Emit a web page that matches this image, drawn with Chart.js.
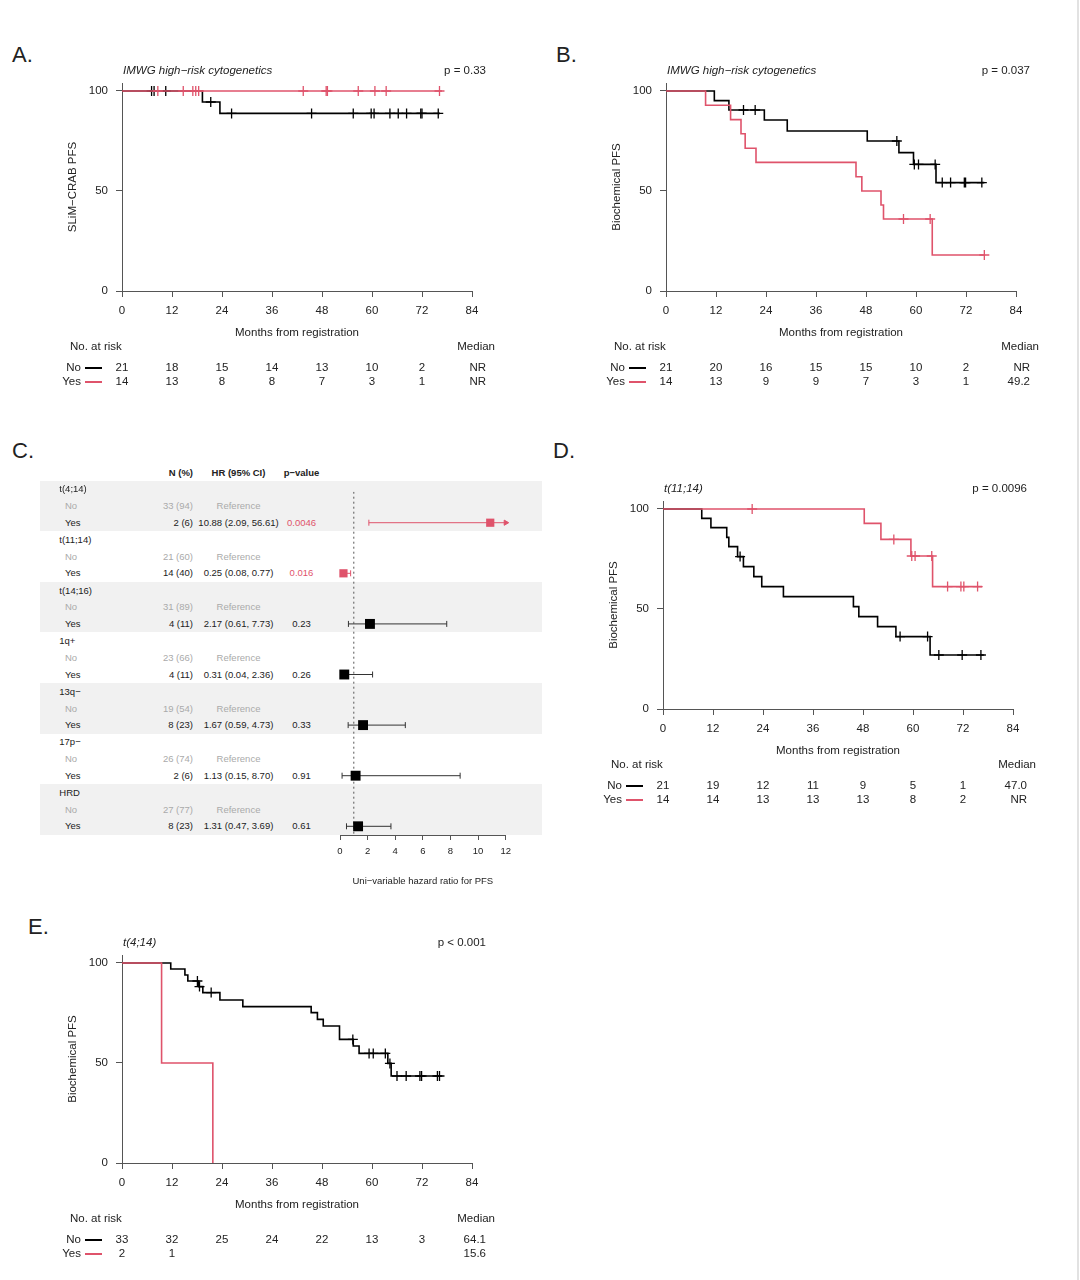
<!DOCTYPE html>
<html>
<head>
<meta charset="utf-8">
<script src="https://cdn.jsdelivr.net/npm/chart.js@4.4.0/dist/chart.umd.min.js"></script>
<style>
  body { margin: 0; background: #fff; }
  #fig { position: relative; width: 1080px; height: 1280px; overflow: hidden;
         font-family: 'Liberation Sans', Arial, sans-serif; color: #222; }
  #fig canvas { position: absolute; }
  .t { position: absolute; white-space: nowrap; line-height: 1; }
</style>
</head>
<body>
<div id="fig"></div>
<script>
/* ---- data ---- */
var RED = '#DF536B';
var monthTicks = [0, 12, 24, 36, 48, 60, 72, 84];
var survTicks = [0, 50, 100];

// A. SLiM-CRAB PFS by IMWG high-risk cytogenetics
var aNoTime = [0, 19.3, 23.5, 76.3];
var aNoSurv = [100, 94.5, 88.8, 88.8];
var aNoCens = [7.1, 7.7, 10.5, 21.3, 26.3, 45.5, 55.5, 59.8, 60.5, 64.3, 66.3, 68.3, 71.7, 72.0, 75.9];
var aYesTime = [0, 76.8];
var aYesSurv = [100, 100];
var aYesCens = [8.6, 14.7, 17.0, 17.7, 18.4, 43.5, 49.0, 49.3, 56.7, 60.7, 63.4, 76.2];
var aRiskNo = [21, 18, 15, 14, 13, 10, 2];
var aRiskYes = [14, 13, 8, 8, 7, 3, 1];
var aMedian = ['NR', 'NR'];

// B. Biochemical PFS by IMWG high-risk cytogenetics
var bNoTime = [0, 11.6, 15.1, 23.6, 29.1, 48.3, 55.9, 59.4, 64.8, 76.4];
var bNoSurv = [100, 95.2, 90.5, 85.5, 80, 75, 69.2, 63.3, 54.2, 54.2];
var bNoCens = [18.6, 21.4, 55.4, 59.6, 60.6, 64.6, 66.3, 68.3, 71.6, 71.9, 75.8];
var bYesTime = [0, 9.5, 15.5, 18, 19, 21.6, 45.6, 47, 51.6, 52.2, 63.9, 76.6];
var bYesSurv = [100, 92.9, 85.7, 78.6, 71.4, 64.3, 57.1, 50, 43, 36, 18, 18];
var bYesCens = [57, 63.4, 76.4];
var bRiskNo = [21, 20, 16, 15, 15, 10, 2];
var bRiskYes = [14, 13, 9, 9, 7, 3, 1];
var bMedian = ['NR', '49.2'];

// D. Biochemical PFS by t(11;14)
var dNoTime = [0, 9.3, 11.5, 15.3, 15.8, 17.9, 19.3, 21.8, 23.7, 28.9, 45.7, 47, 51.5, 55.9, 64.1, 77];
var dNoSurv = [100, 95.3, 90.7, 85.8, 81.2, 76.2, 71.2, 66.2, 61.2, 56.2, 51.2, 46.2, 41.2, 36.2, 27, 27];
var dNoCens = [18.5, 56.9, 63.5, 66.2, 71.8, 76.3];
var dYesTime = [0, 48.3, 52.3, 59.5, 64.7, 76.6];
var dYesSurv = [100, 92.8, 84.8, 76.5, 61.2, 61.2];
var dYesCens = [21.4, 55.4, 59.7, 60.5, 64.5, 68.3, 71.5, 72.2, 75.5];
var dRiskNo = [21, 19, 12, 11, 9, 5, 1];
var dRiskYes = [14, 14, 13, 13, 13, 8, 2];
var dMedian = ['47.0', 'NR'];

// E. Biochemical PFS by t(4;14)
var eNoTime = [0, 11.7, 15.1, 15.8, 18.4, 19.4, 23.5, 29, 45.4, 46.9, 48.3, 52.2, 55.5, 56.9, 63.8, 64.6, 76.7];
var eNoSurv = [100, 97, 94, 91, 88.2, 85.2, 81.5, 78.2, 75.2, 71.8, 68.5, 61.8, 58.5, 54.8, 49.8, 43.5, 43.5];
var eNoCens = [18.1, 18.6, 21.4, 55.4, 59.3, 60.3, 63.2, 64.3, 66, 68.2, 71.5, 71.9, 75.7, 76.2];
var eYesTime = [0, 9.5, 21.8];
var eYesSurv = [100, 50, 0];
var eYesCens = [];
var eRiskNo = [33, 32, 25, 24, 22, 13, 3];
var eRiskYes = [2, 1];
var eMedian = ['64.1', '15.6'];

// C. forest plot
var fLabels = ['t(4;14)', 't(11;14)', 't(14;16)', '1q+', '13q\u2212', '17p\u2212', 'HRD'];
var fNoN = [33, 21, 31, 23, 19, 26, 27];
var fNoPct = [94, 60, 89, 66, 54, 74, 77];
var fYesN = [2, 14, 4, 4, 8, 2, 8];
var fYesPct = [6, 40, 11, 11, 23, 6, 23];
var fHR = [10.88, 0.25, 2.17, 0.31, 1.67, 1.13, 1.31];
var fLo = [2.09, 0.08, 0.61, 0.04, 0.59, 0.15, 0.47];
var fHi = [56.61, 0.77, 7.73, 2.36, 4.73, 8.70, 3.69];
var fP = ['0.0046', '0.016', '0.23', '0.26', '0.33', '0.91', '0.61'];
var hrTicks = [0, 2, 4, 6, 8, 10, 12];

/* ---- helpers ---- */
var fig = document.getElementById('fig');
Chart.defaults.font.family = "'Liberation Sans', Arial, sans-serif";
Chart.defaults.color = '#222';

function txt(x, y, s, o) {
  o = o || {};
  var d = document.createElement('div');
  d.className = 't';
  d.textContent = s;
  var ax = o.align === 'right' ? '-100%' : (o.align === 'center' ? '-50%' : '0');
  d.style.left = x + 'px';
  d.style.top = y + 'px';
  d.style.transform = 'translate(' + ax + ',-50%)';
  d.style.fontSize = (o.size || 11.5) + 'px';
  if (o.color) d.style.color = o.color;
  if (o.italic) d.style.fontStyle = 'italic';
  if (o.bold) d.style.fontWeight = 'bold';
  fig.appendChild(d);
}

function box(x, y, w, h, css) {
  var d = document.createElement('div');
  d.style.position = 'absolute';
  d.style.left = x + 'px'; d.style.top = y + 'px';
  d.style.width = w + 'px'; d.style.height = h + 'px';
  for (var k in css) d.style[k] = css[k];
  fig.appendChild(d);
}

function addCanvas(x, y, w, h) {
  var c = document.createElement('canvas');
  c.width = w; c.height = h;
  c.style.left = x + 'px'; c.style.top = y + 'px';
  fig.appendChild(c);
  return c;
}

function survAt(t, s, x) {
  var v = s[0];
  for (var i = 0; i < t.length; i++) if (t[i] <= x) v = s[i];
  return v;
}

// KM panel: x0 = pixel of month 0, y0 = pixel of 0 %
function kmPanel(x0, y0, letter, lx, ly, sub, pval, ytitle, groups, median) {
  // chart area: x0..x0+350, (y0-208)..y0 ; y max 104
  var cv = addCanvas(x0 - 60, y0 - 228, 424, 283);
  var datasets = [];
  groups.forEach(function(g) {
    datasets.push({
      type: 'line',
      data: g.t.map(function(x, i) { return { x: x, y: g.s[i] }; }),
      stepped: true, borderColor: g.col, borderWidth: 1.6,
      pointRadius: 0, fill: false, order: g.ord
    });
    datasets.push({
      type: 'scatter',
      data: g.c.map(function(x) { return { x: x, y: survAt(g.t, g.s, x) }; }),
      pointStyle: 'cross', pointRadius: 5, borderColor: g.col, borderWidth: 1.3,
      order: g.ord
    });
  });

  new Chart(cv, {
    type: 'line',
    data: { datasets: datasets },
    options: {
      responsive: false, animation: false, events: [],
      layout: { padding: { top: 20, right: 14, left: 0, bottom: 0 } },
      plugins: { legend: { display: false }, tooltip: { enabled: false } },
      scales: {
        x: {
          type: 'linear', min: 0, max: 84,
          afterBuildTicks: function(s) { s.ticks = monthTicks.map(function(v) { return { value: v }; }); },
          afterFit: function(s) { s.height = 55; },
          ticks: { padding: 7, font: { size: 11.5 }, color: '#222' },
          grid: { drawOnChartArea: false, tickLength: 6, color: '#555' },
          border: { color: '#555' },
          title: { display: true, text: 'Months from registration', font: { size: 11.5 },
                   color: '#222', padding: { top: 0, bottom: 6 } }
        },
        y: {
          type: 'linear', min: 0, max: 104,
          afterBuildTicks: function(s) { s.ticks = survTicks.map(function(v) { return { value: v }; }); },
          afterFit: function(s) { s.width = 60; },
          ticks: { padding: 8, font: { size: 11.5 }, color: '#222' },
          grid: { drawOnChartArea: false, tickLength: 6, color: '#555' },
          border: { color: '#555' },
          title: { display: true, text: ytitle, font: { size: 11.5 }, color: '#222',
                   padding: { top: 4, bottom: 0 } }
        }
      }
    }
  });

  txt(lx, ly, letter, { size: 22 });
  txt(x0 + 1, y0 - 220.5, sub, { italic: true });
  txt(x0 + 364, y0 - 220.5, pval, { align: 'right' });

  // number at risk table
  txt(x0 - 52, y0 + 56, 'No. at risk');
  txt(x0 + 373, y0 + 56, 'Median', { align: 'right' });
  groups.forEach(function(g, r) {
    var ry = y0 + 76.5 + r * 14;
    txt(x0 - 41, ry, g.name, { align: 'right' });
    box(x0 - 37, Math.round(ry) - 1, 17, 2, { background: g.col });
    g.risk.forEach(function(n, i) {
      txt(x0 + monthTicks[i] * 350 / 84, ry, String(n), { align: 'center' });
    });
    txt(x0 + 364, ry, median[r], { align: 'right' });
  });
}

/* ---- KM panels ---- */
kmPanel(122, 291, 'A.', 12, 55, 'IMWG high\u2212risk cytogenetics', 'p = 0.33', 'SLiM\u2212CRAB PFS', [
  { name: 'No', col: '#000', ord: 2, t: aNoTime, s: aNoSurv, c: aNoCens, risk: aRiskNo },
  { name: 'Yes', col: RED, ord: 1, t: aYesTime, s: aYesSurv, c: aYesCens, risk: aRiskYes }
], aMedian);

kmPanel(666, 291, 'B.', 556, 55, 'IMWG high\u2212risk cytogenetics', 'p = 0.037', 'Biochemical PFS', [
  { name: 'No', col: '#000', ord: 2, t: bNoTime, s: bNoSurv, c: bNoCens, risk: bRiskNo },
  { name: 'Yes', col: RED, ord: 1, t: bYesTime, s: bYesSurv, c: bYesCens, risk: bRiskYes }
], bMedian);

kmPanel(663, 709, 'D.', 553, 451, 't(11;14)', 'p = 0.0096', 'Biochemical PFS', [
  { name: 'No', col: '#000', ord: 2, t: dNoTime, s: dNoSurv, c: dNoCens, risk: dRiskNo },
  { name: 'Yes', col: RED, ord: 1, t: dYesTime, s: dYesSurv, c: dYesCens, risk: dRiskYes }
], dMedian);

kmPanel(122, 1163, 'E.', 28, 927, 't(4;14)', 'p < 0.001', 'Biochemical PFS', [
  { name: 'No', col: '#000', ord: 2, t: eNoTime, s: eNoSurv, c: eNoCens, risk: eRiskNo },
  { name: 'Yes', col: RED, ord: 1, t: eYesTime, s: eYesSurv, c: eYesCens, risk: eRiskYes }
], eMedian);

/* ---- C. forest plot ---- */
txt(12, 451, 'C.', { size: 22 });
var rowH = 50.6, bandTop = 480.7;
for (var k = 0; k < fLabels.length; k += 2) {
  box(40, bandTop + k * rowH, 502, rowH, { background: '#f1f1f1' });
}
txt(193, 472.7, 'N (%)', { align: 'right', bold: true, size: 9.5 });
txt(238.5, 472.7, 'HR (95% CI)', { align: 'center', bold: true, size: 9.5 });
txt(301.5, 472.7, 'p\u2212value', { align: 'center', bold: true, size: 9.5 });

var GREY = '#aaa';
fLabels.forEach(function(lab, i) {
  var gy = 489.3 + i * rowH;
  var sig = parseFloat(fP[i]) < 0.05;
  txt(59.3, gy, lab, { size: 9.5 });
  txt(65, gy + 16.8, 'No', { size: 9.5, color: GREY });
  txt(193, gy + 16.8, fNoN[i] + ' (' + fNoPct[i] + ')', { size: 9.5, color: GREY, align: 'right' });
  txt(238.5, gy + 16.8, 'Reference', { size: 9.5, color: GREY, align: 'center' });
  txt(65, gy + 33.5, 'Yes', { size: 9.5 });
  txt(193, gy + 33.5, fYesN[i] + ' (' + fYesPct[i] + ')', { size: 9.5, align: 'right' });
  txt(238.5, gy + 33.5, fHR[i].toFixed(2) + ' (' + fLo[i].toFixed(2) + ', ' + fHi[i].toFixed(2) + ')',
      { size: 9.5, align: 'center' });
  txt(301.5, gy + 33.5, fP[i], { size: 9.5, align: 'center', color: sig ? RED : '#222' });
});

var yMin = -0.613, yMax = 6.172;
var fDatasets = [{
  type: 'line', data: [{ x: 1, y: yMin }, { x: 1, y: yMax }],
  borderColor: '#555', borderWidth: 1, borderDash: [2, 3], pointRadius: 0, order: 3
}];
fHR.forEach(function(hr, i) {
  var sig = parseFloat(fP[i]) < 0.05;
  var col = sig ? RED : '#333';
  var hiShown = Math.min(fHi[i], 12);
  fDatasets.push({
    type: 'line', data: [{ x: fLo[i], y: i }, { x: hiShown, y: i }],
    borderColor: col, borderWidth: 1, clip: false, order: 2,
    pointStyle: fHi[i] > 12 ? ['line', 'triangle'] : 'line',
    pointRotation: 90, pointRadius: 3, pointBorderWidth: 1,
    pointBorderColor: col, pointBackgroundColor: col
  });
});
fDatasets.push({
  type: 'scatter',
  data: fHR.map(function(v, i) { return { x: v, y: i }; }),
  pointStyle: 'rect',
  pointRadius: fP.map(function(p) { return parseFloat(p) < 0.05 ? 5.8 : 7; }),
  backgroundColor: fP.map(function(p) { return parseFloat(p) < 0.05 ? RED : '#000'; }),
  borderWidth: 0, clip: false, order: 1
});

new Chart(addCanvas(300, 470, 240, 430), {
  type: 'line',
  data: { datasets: fDatasets },
  options: {
    responsive: false, animation: false, events: [],
    layout: { padding: { left: 40, right: 34.3, top: 21.7, bottom: 0 } },
    plugins: { legend: { display: false }, tooltip: { enabled: false } },
    scales: {
      x: {
        type: 'linear', min: 0, max: 12,
        afterBuildTicks: function(s) { s.ticks = hrTicks.map(function(v) { return { value: v }; }); },
        afterFit: function(s) { s.height = 65; },
        ticks: { padding: 6, font: { size: 9.5 }, color: '#222' },
        grid: { drawOnChartArea: false, tickLength: 5, color: '#555' },
        border: { color: '#555' },
        title: { display: true, text: 'Uni\u2212variable hazard ratio for PFS', font: { size: 9.5 },
                 color: '#222', padding: { top: 0, bottom: 12.6 } }
      },
      y: { type: 'linear', reverse: true, min: yMin, max: yMax, display: false }
    }
  }
});

// thin grey frame line at the right edge of the figure
box(1077, 0, 2, 1280, { background: '#e2e2e2' });
</script>
</body>
</html>
